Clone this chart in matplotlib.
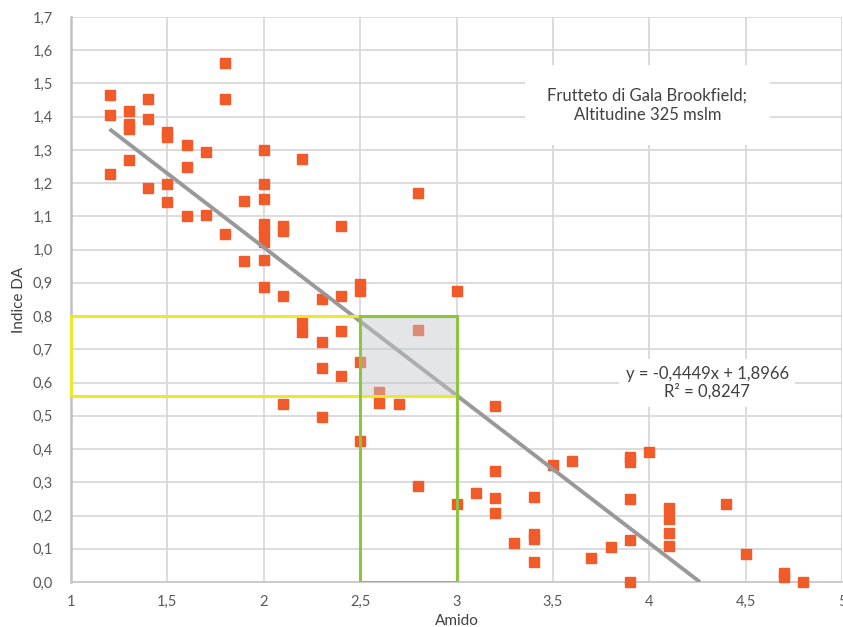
import matplotlib
matplotlib.use("Agg")
import matplotlib.pyplot as plt
from matplotlib.patches import Rectangle
from matplotlib.ticker import FixedLocator, FuncFormatter

plt.rcParams['font.family'] = ['Lato', 'DejaVu Sans']

amido = [1.2, 1.2, 1.2,
         1.3, 1.3, 1.3, 1.3,
         1.4, 1.4, 1.4,
         1.5, 1.5, 1.5, 1.5,
         1.6, 1.6, 1.6,
         1.7, 1.7,
         1.8, 1.8, 1.8,
         1.9, 1.9,
         2.0, 2.0, 2.0, 2.0, 2.0, 2.0, 2.0, 2.0,
         2.1, 2.1, 2.1, 2.1,
         2.2, 2.2, 2.2,
         2.3, 2.3, 2.3, 2.3,
         2.4, 2.4, 2.4, 2.4,
         2.5, 2.5, 2.5, 2.5,
         2.6, 2.6,
         2.7,
         2.8, 2.8, 2.8,
         3.0, 3.0,
         3.1,
         3.2, 3.2, 3.2, 3.2,
         3.3,
         3.4, 3.4, 3.4, 3.4,
         3.5,
         3.6,
         3.7,
         3.8,
         3.9, 3.9, 3.9, 3.9, 3.9,
         4.0,
         4.1, 4.1, 4.1, 4.1,
         4.4,
         4.5,
         4.7, 4.7,
         4.8]
indice_da = [1.464, 1.404, 1.227,
             1.416, 1.378, 1.364, 1.269,
             1.452, 1.392, 1.185,
             1.355, 1.340, 1.197, 1.143,
             1.314, 1.248, 1.101,
             1.293, 1.104,
             1.563, 1.452, 1.047,
             1.146, 0.966,
             1.299, 1.197, 1.152, 1.077, 1.055, 1.022, 0.968, 0.889,
             1.072, 1.055, 0.862, 0.535,
             1.272, 0.785, 0.751,
             0.852, 0.721, 0.643, 0.495,
             1.070, 0.862, 0.754, 0.619,
             0.897, 0.877, 0.661, 0.424,
             0.571, 0.540,
             0.535,
             1.169, 0.757, 0.289,
             0.875, 0.235,
             0.267,
             0.529, 0.333, 0.252, 0.208,
             0.116,
             0.257, 0.144, 0.128, 0.059,
             0.352,
             0.363,
             0.071,
             0.104,
             0.377, 0.362, 0.249, 0.125, 0.0,
             0.390,
             0.222, 0.189, 0.147, 0.107,
             0.235,
             0.083,
             0.028, 0.014,
             0.0]

slope = -0.4449
intercept = 1.8966
trend_x = [1.2, -intercept / slope]

yellow_box = (1.0, 0.56, 3.0, 0.80)   # x0, y0, x1, y1
green_box = (2.5, 0.0, 3.0, 0.80)
gray_box = (2.5, 0.56, 3.0, 0.80)

x_ticks = [1, 1.5, 2, 2.5, 3, 3.5, 4, 4.5, 5]
y_ticks = [i / 10 for i in range(0, 18)]

title_text = "Frutteto di Gala Brookfield;\nAltitudine 325 mslm"
eq_text = "y = -0,4449x + 1,8966\nR² = 0,8247"

fig = plt.figure(figsize=(8.43, 6.27), dpi=100)
ax = fig.add_axes([71/843, 1 - 582/627, (842-71)/843, (582-17)/627])

ax.set_xlim(1, 5)
ax.set_ylim(0, 1.7)
ax.xaxis.set_major_locator(FixedLocator(x_ticks))
ax.yaxis.set_major_locator(FixedLocator(y_ticks))
ax.xaxis.set_major_formatter(FuncFormatter(lambda v, p: ('%g' % v).replace('.', ',')))
ax.yaxis.set_major_formatter(FuncFormatter(lambda v, p: ('%.1f' % v).replace('.', ',')))
ax.grid(True, color='#d9d9d9', lw=1.3, zorder=0)
ax.set_axisbelow(True)
for s in ['top', 'right']:
    ax.spines[s].set_visible(False)
ax.spines['left'].set_color('#c0c0c0')
ax.spines['left'].set_linewidth(1.8)
ax.spines['bottom'].set_color('#c8c8c8')
ax.spines['bottom'].set_linewidth(1.3)
ax.tick_params(length=0, labelsize=10.5, labelcolor='#595959')
ax.tick_params(axis='y', pad=13)
ax.tick_params(axis='x', pad=9)

ax.set_xlabel('Amido', fontsize=11, color='#404040', labelpad=4)
ax.set_ylabel('Indice DA', fontsize=11, color='#404040', labelpad=5)

ax.plot(amido, indice_da, linestyle='none', marker='s', ms=6.5,
        color='#f15a29', mec='#f15a29', zorder=3, clip_on=False)

ax.plot(trend_x, [slope * v + intercept for v in trend_x],
        color='#999999', lw=2.8, zorder=4, solid_capstyle='butt')

ax.add_patch(Rectangle((gray_box[0], gray_box[1]), gray_box[2]-gray_box[0], gray_box[3]-gray_box[1],
                       facecolor='#c4c6ca', alpha=0.45, edgecolor='none', zorder=5))
ax.add_patch(Rectangle((yellow_box[0], yellow_box[1]), yellow_box[2]-yellow_box[0], yellow_box[3]-yellow_box[1],
                       facecolor='none', edgecolor='#f0e62e', lw=2.2, zorder=6, clip_on=False))
ax.add_patch(Rectangle((green_box[0], green_box[1]), green_box[2]-green_box[0], green_box[3]-green_box[1],
                       facecolor='none', edgecolor='#8cc63f', lw=2.2, zorder=7))

ax.text(3.99, 1.435, title_text, ha='center', va='center', fontsize=12, color='#404040',
        linespacing=1.25, zorder=8,
        bbox=dict(boxstyle='square,pad=1.35', facecolor='white', edgecolor='none'))
ax.text(4.30, 0.599, eq_text, ha='center', va='center', fontsize=12, color='#404040',
        linespacing=1.15, zorder=8,
        bbox=dict(boxstyle='square,pad=0.4', facecolor='white', edgecolor='none'))

fig.savefig('out.png', dpi=100)
